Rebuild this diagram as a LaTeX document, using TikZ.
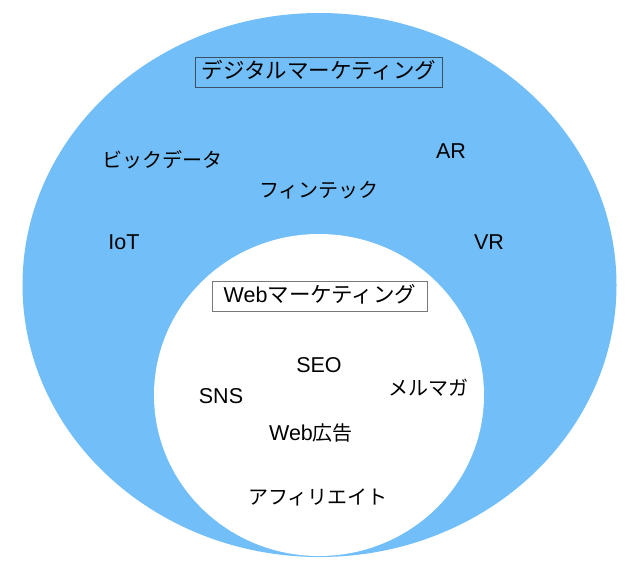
\documentclass[tikz,border=0pt]{standalone}
\usepackage{fontspec}
\usetikzlibrary{shapes.geometric}
\setmainfont{Liberation Sans}
\newfontfamily\jp{Noto Sans CJK JP}
\newcommand\jps{\jp\fontsize{20}{24}\selectfont}
\definecolor{skyblue}{RGB}{113,190,248}
\definecolor{boxline}{RGB}{60,80,100}
\definecolor{boxgray}{RGB}{120,120,120}
\begin{document}
\begin{tikzpicture}[x=1pt,y=-1pt,
  lbl/.style={font=\fontsize{21.5}{25}\selectfont, inner sep=0pt, text height=15.5pt, text depth=0pt},
  titlebox/.style={font=\fontsize{21.5}{25}\selectfont, text height=16pt, text depth=3.5pt, draw=#1, line width=0.7pt, inner xsep=0pt, inner ysep=5.25pt}]
\useasboundingbox (0,0) rectangle (640,571);
\fill[white] (0,0) rectangle (640,571);
\node[ellipse, fill=skyblue, minimum width=594pt, minimum height=544pt, inner sep=0pt] (outer) at (319.5,285) {};
\node[ellipse, fill=white, minimum width=330pt, minimum height=322pt, inner sep=0pt] (inner) at (319,395) {};
\node[titlebox=boxline, minimum width=247pt] (digital) at (319,72) {\jp デジタルマーケティング};
\node[titlebox=boxgray, fill=white, minimum width=215pt] (web) at (320,296) {Web{\jp マーケティング}};
\node[lbl] (bigdata) at (162,160) {\jps ビックデータ};
\node[lbl] (fintech) at (319,190) {\jps フィンテック};
\node[lbl] (ar) at (451,151) {AR};
\node[lbl] (iot) at (124,242) {IoT};
\node[lbl] (vr) at (489,242) {VR};
\node[lbl] (seo) at (319,365) {SEO};
\node[lbl] (sns) at (221,396) {SNS};
\node[lbl] (mail) at (428,388) {\jps メルマガ};
\node[lbl] (webad) at (311,433) {Web{\jps 広告}};
\node[lbl] (affi) at (318,497) {\jps アフィリエイト};
\end{tikzpicture}
\end{document}
